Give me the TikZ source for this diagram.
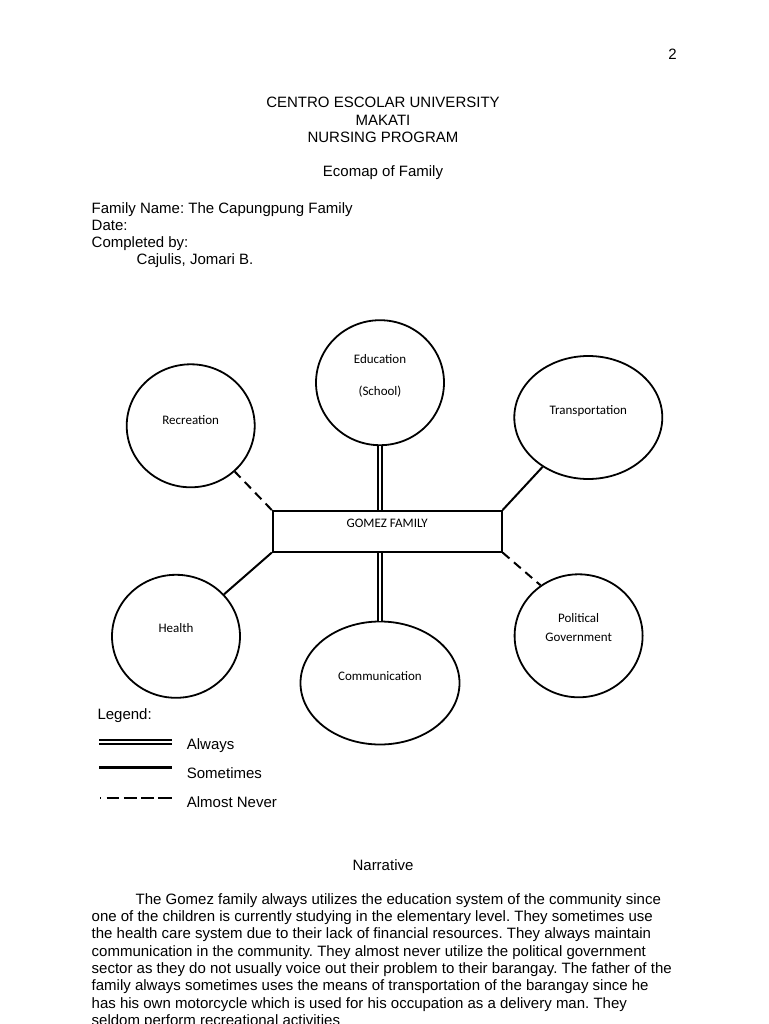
\documentclass[tikz,border=0pt]{standalone}
\usepackage{fontspec}
\setmainfont{Liberation Sans}
\newfontfamily\calfont{Carlito}
\usetikzlibrary{shapes.geometric}
\frenchspacing

\begin{document}
\begin{tikzpicture}[x=1pt, y=-1pt,
  body/.style={font=\fontsize{15}{17.4}\selectfont, inner sep=0pt},
  lbl/.style={font=\calfont\fontsize{13}{19.4}\selectfont, align=center, inner sep=0pt},
  eco/.style={draw, ellipse, line width=1.8pt, inner sep=0pt, minimum width=128pt, minimum height=123pt},
  always/.style={double, double distance=2.4pt, line width=1.7pt},
  sometimes/.style={line width=2pt},
  never/.style={line width=2pt, dash pattern=on 9pt off 6pt}]
\useasboundingbox[fill=white] (0,0) rectangle (768,1024);

% heading
\node[body, anchor=base east] (page) at (677,60) {2};
\node[body, anchor=base] (uni) at (383,107.7) {CENTRO ESCOLAR UNIVERSITY};
\node[body, anchor=base] (city) at (383,125.2) {MAKATI};
\node[body, anchor=base] (prog) at (383,142.7) {NURSING PROGRAM};
\node[body, anchor=base] (title) at (383,177) {Ecomap of Family};
\node[body, anchor=base west] (fname) at (91.5,213.3) {Family Name: The Capungpung Family};
\node[body, anchor=base west] (date) at (91.5,230.3) {Date:};
\node[body, anchor=base west] (compl) at (91.5,247.3) {Completed by:};
\node[body, anchor=base west] (author) at (136.5,264.3) {Cajulis, Jomari B.};

% ecomap
\node[draw, line width=1.8pt, inner sep=0pt, minimum width=229pt, minimum height=40.7pt,
  label={[lbl, yshift=8pt]center:GOMEZ FAMILY}] (fam) at (387.2,531.3) {};
\node[eco, label={[lbl, yshift=6pt]center:Recreation}] (rec) at (190.7,425.8) {};
\node[eco, minimum height=125pt, label={[lbl, yshift=7pt]center:Education\\[13pt](School)}] (edu) at (380,382.7) {};
\node[eco, minimum width=148pt, label={[lbl, yshift=6.5pt]center:Transportation}] (trans) at (588.3,417.5) {};
\node[eco, label={[lbl, yshift=8pt]center:Health}] (hea) at (176,636.3) {};
\node[eco, minimum width=159pt, label={[lbl, yshift=7pt]center:Communication}] (com) at (380,683) {};
\node[eco, label={[lbl, yshift=8pt]center:Political\\Government}] (pol) at (578.6,635.8) {};

\draw[always] (edu) -- (edu |- fam.north);
\draw[always] (com) -- (com |- fam.south);
\draw[never] (fam.north west) -- (rec);
\draw[sometimes] (fam.north east) -- (trans);
\draw[sometimes] (fam.south west) -- (hea);
\draw[never] (fam.south east) -- (pol.127);

% legend
\node[body, anchor=base west] (legend) at (97.3,719) {Legend:};
\node[body, anchor=base west] (lalways) at (186.7,749.3) {Always};
\node[body, anchor=base west] (lsome) at (186.7,778.3) {Sometimes};
\node[body, anchor=base west] (lnever) at (186.7,807.3) {Almost Never};
\coordinate (a1) at (99.3,742);
\coordinate (a2) at (172.3,742);
\coordinate (s1) at (99.3,767.5);
\coordinate (s2) at (172.3,767.5);
\coordinate (n1) at (100,798);
\coordinate (n2) at (172.3,798);
\draw[always, double distance=2pt, line width=1.6pt] (a1) -- (a2);
\draw[sometimes, line width=2.6pt] (s1) -- (s2);
\draw[line width=2pt, dash pattern=on 1pt off 5.7pt on 12.7pt off 4.5pt on 12.7pt off 4.5pt on 12.7pt off 4.5pt on 14pt] (n1) -- (n2);

% narrative
\node[body, anchor=base] (narr) at (383,870.7) {Narrative};
\node[body, anchor=base west] (nar1) at (135.5,904) {The Gomez family always utilizes the education system of the community since};
\node[body, anchor=base west] (nar2) at (91.5,921.3) {one of the children is currently studying in the elementary level. They sometimes use};
\node[body, anchor=base west] (nar3) at (91.5,938.7) {the health care system due to their lack of financial resources. They always maintain};
\node[body, anchor=base west] (nar4) at (91.5,956) {communication in the community. They almost never utilize the political government};
\node[body, anchor=base west] (nar5) at (91.5,973.3) {sector as they do not usually voice out their problem to their barangay. The father of the};
\node[body, anchor=base west] (nar6) at (91.5,990.7) {family always sometimes uses the means of transportation of the barangay since he};
\node[body, anchor=base west] (nar7) at (91.5,1008) {has his own motorcycle which is used for his occupation as a delivery man. They};
\node[body, anchor=base west] (nar8) at (91.5,1025.3) {seldom perform recreational activities};
\end{tikzpicture}
\end{document}
